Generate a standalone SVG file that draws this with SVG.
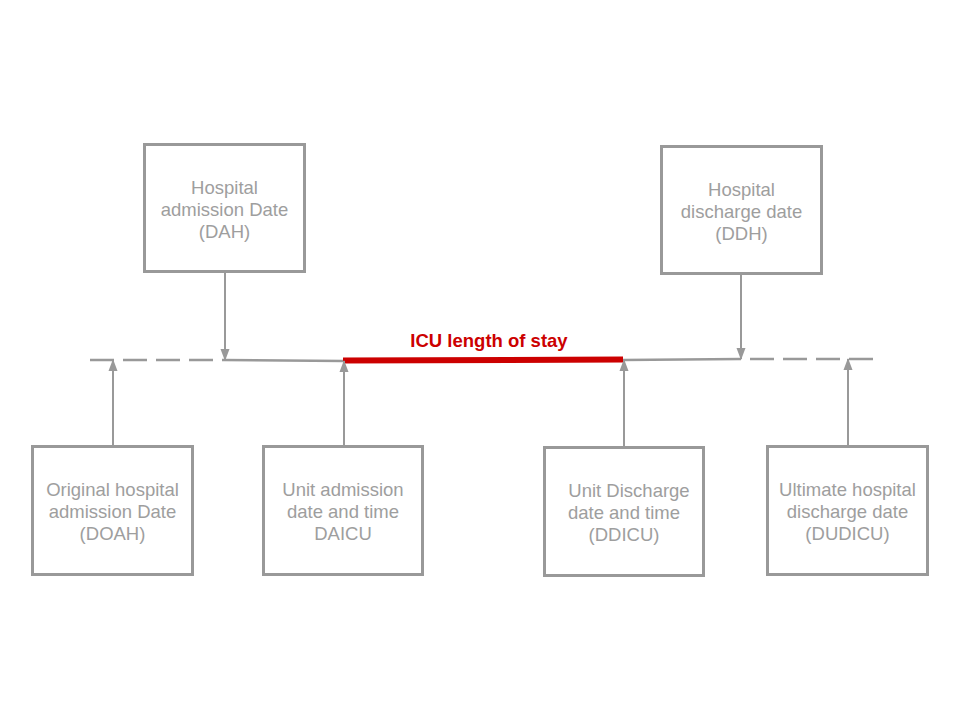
<svg xmlns="http://www.w3.org/2000/svg" width="960" height="720" viewBox="0 0 960 720">
<style>
.box{fill:#fff;stroke:#999;stroke-width:3}
.t{font-family:"Liberation Sans",Arial,sans-serif;font-size:18.5px;fill:#9e9e9e;text-anchor:middle}
.ln{stroke:#999;stroke-width:2.5;fill:none}
.dash{stroke-dasharray:24 9}
.arr{stroke:#999;stroke-width:2;fill:none;marker-end:url(#ah)}
</style>
<defs>
<marker id="ah" markerUnits="userSpaceOnUse" markerWidth="12" markerHeight="12" viewBox="0 0 12 12" refX="11" refY="6" orient="auto">
<path d="M0,1.5 L12,6 L0,10.5 Z" fill="#999"/>
</marker>
</defs>
<rect width="960" height="720" fill="#fff"/>
<g id="connectors">
<line class="ln dash" x1="90" y1="360" x2="223" y2="360"/>
<line class="ln" x1="223" y1="360" x2="343" y2="361"/>
<line class="ln" x1="623" y1="360" x2="741" y2="359"/>
<line class="ln dash" x1="750" y1="359" x2="873" y2="359"/>
<line x1="343" y1="360.5" x2="623" y2="359.5" stroke="#cc0000" stroke-width="6"/>
<line class="arr" x1="225" y1="272" x2="225" y2="360"/>
<line class="arr" x1="741" y1="274" x2="741" y2="359"/>
<line class="arr" x1="113" y1="446" x2="113" y2="360"/>
<line class="arr" x1="344" y1="446" x2="344" y2="361"/>
<line class="arr" x1="624" y1="447" x2="624" y2="360"/>
<line class="arr" x1="848" y1="446" x2="848" y2="359"/>
<text x="489" y="347" font-family="Liberation Sans,Arial,sans-serif" font-size="18.5" font-weight="bold" fill="#cc0000" text-anchor="middle">ICU length of stay</text>
</g>
<g id="DAH">
<rect class="box" x="144.5" y="144.5" width="160" height="127"/>
<text class="t" x="224.5" y="194">Hospital</text>
<text class="t" x="224.5" y="216">admission Date</text>
<text class="t" x="224.5" y="238">(DAH)</text>
</g>
<g id="DDH">
<rect class="box" x="661.5" y="146.5" width="160" height="127"/>
<text class="t" x="741.5" y="196">Hospital</text>
<text class="t" x="741.5" y="218">discharge date</text>
<text class="t" x="741.5" y="240">(DDH)</text>
</g>
<g id="DOAH">
<rect class="box" x="32.5" y="446.5" width="160" height="128"/>
<text class="t" x="112.5" y="496">Original hospital</text>
<text class="t" x="112.5" y="518">admission Date</text>
<text class="t" x="112.5" y="540">(DOAH)</text>
</g>
<g id="DAICU">
<rect class="box" x="263.5" y="446.5" width="159" height="128"/>
<text class="t" x="343" y="496">Unit admission</text>
<text class="t" x="343" y="518">date and time</text>
<text class="t" x="343" y="540">DAICU</text>
</g>
<g id="DDICU">
<rect class="box" x="544.5" y="447.5" width="159" height="128"/>
<text class="t" x="629" y="497">Unit Discharge</text>
<text class="t" x="624" y="519">date and time</text>
<text class="t" x="624" y="541">(DDICU)</text>
</g>
<g id="DUDICU">
<rect class="box" x="767.5" y="446.5" width="160" height="128"/>
<text class="t" x="847.5" y="496">Ultimate hospital</text>
<text class="t" x="847.5" y="518">discharge date</text>
<text class="t" x="847.5" y="540">(DUDICU)</text>
</g>
</svg>
